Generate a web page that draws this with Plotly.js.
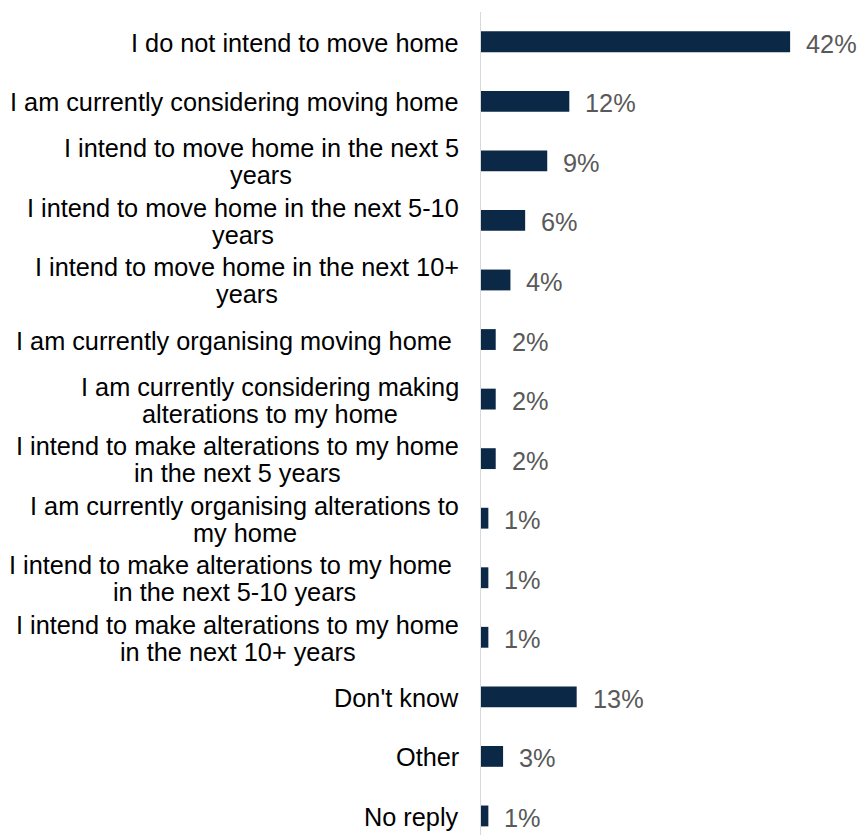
<!DOCTYPE html>
<html>
<head>
<meta charset="utf-8">
<script src="https://cdn.plot.ly/plotly-3.0.1.min.js"></script>
<style>
  html, body { margin: 0; padding: 0; background: #ffffff; }
  #chart { width: 861px; height: 835px; }
</style>
</head>
<body>
<div id="chart"></div>
<script>
const categories = [
  "I do not intend to move home",
  "I am currently considering moving home",
  "I intend to move home in the next 5<br>years",
  "I intend to move home in the next 5-10<br>years",
  "I intend to move home in the next 10+<br>years",
  "I am currently organising moving home\u00a0",
  "I am currently considering making<br>alterations to my home",
  "I intend to make alterations to my home<br>in the next 5 years",
  "I am currently organising alterations to<br>my home",
  "I intend to make alterations to my home\u00a0<br>in the next 5-10 years",
  "I intend to make alterations to my home<br>in the next 10+ years",
  "Don't know",
  "Other",
  "No reply"
];
const values = [42, 12, 9, 6, 4, 2, 2, 2, 1, 1, 1, 13, 3, 1];
const valueLabels = ["42%", "12%", "9%", "6%", "4%", "2%", "2%", "2%", "1%", "1%", "1%", "13%", "3%", "1%"];

const FONT = '"Liberation Sans", Arial, sans-serif';
const FS = 25.3;
const LINE_H = 27;

const canvas = document.createElement('canvas');
const ctx = canvas.getContext('2d');
ctx.font = FS + 'px "Liberation Sans", Arial, sans-serif';

const annotations = [];
categories.forEach((cat, idx) => {
  const lines = cat.split('<br>');
  const blockW = Math.max(...lines.map(l => ctx.measureText(l).width));
  const n = lines.length;
  lines.forEach((line, i) => {
    annotations.push({
      xref: 'paper', yref: 'y',
      x: 0, y: idx,
      xanchor: 'center', yanchor: 'middle',
      xshift: -(22 + blockW / 2),
      yshift: ((n - 1) / 2 - i) * LINE_H - 1,
      text: line,
      showarrow: false,
      font: { family: FONT, size: FS, color: '#000000' },
      borderpad: 0
    });
  });
});

values.forEach((v, idx) => {
  annotations.push({
    xref: 'x', yref: 'y',
    x: v, y: idx,
    xanchor: 'left', yanchor: 'middle',
    xshift: 15, yshift: -2,
    text: valueLabels[idx],
    showarrow: false,
    font: { family: FONT, size: FS, color: '#595959' },
    borderpad: 0
  });
});

const trace = {
  type: 'bar',
  orientation: 'h',
  x: values,
  y: categories,
  marker: { color: '#0B2947', line: { width: 0 } },
  hoverinfo: 'none'
};

const layout = {
  width: 861,
  height: 835,
  margin: { l: 481, r: 0, t: 12, b: 0, pad: 0 },
  paper_bgcolor: '#ffffff',
  plot_bgcolor: '#ffffff',
  showlegend: false,
  bargap: 0.65,
  font: { family: FONT, size: FS },
  xaxis: {
    range: [0, 51.63],
    showgrid: false,
    zeroline: false,
    showline: false,
    showticklabels: false,
    ticks: ''
  },
  yaxis: {
    type: 'category',
    range: [13.32, -0.5],
    showgrid: false,
    zeroline: false,
    showline: true,
    linecolor: '#d9d9d9',
    linewidth: 1,
    showticklabels: false,
    ticks: ''
  },
  annotations: annotations
};

Plotly.newPlot('chart', [trace], layout, { staticPlot: true, displayModeBar: false });
</script>
</body>
</html>
